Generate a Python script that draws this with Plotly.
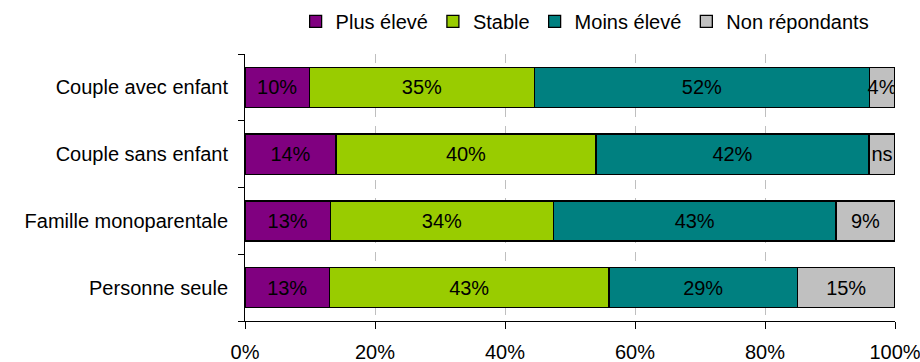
import plotly.graph_objects as go

# Household types (top to bottom) and share of answers per option
categories = ["Couple avec enfant", "Couple sans enfant", "Famille monoparentale", "Personne seule"]
plus_eleve = [10, 14, 13, 13]
stable = [35, 40, 34, 43]
moins_eleve = [52, 42, 43, 29]
non_repondants = [4, 4, 9, 15]
non_repondants_labels = ["4%", "ns", "9%", "15%"]
x_ticks = [0, 20, 40, 60, 80, 100]
x_tick_labels = [f"{t}%" for t in x_ticks]

series = [
    ("Plus élevé", plus_eleve, "#800080", [f"{v}%" for v in plus_eleve]),
    ("Stable", stable, "#99CC00", [f"{v}%" for v in stable]),
    ("Moins élevé", moins_eleve, "#008080", [f"{v}%" for v in moins_eleve]),
    ("Non répondants", non_repondants, "#C0C0C0", non_repondants_labels),
]

font_family = "Liberation Sans, Arial, sans-serif"

fig = go.Figure()
for name, vals, color, labels in series:
    fig.add_trace(go.Bar(
        name=name,
        y=categories,
        x=vals,
        orientation="h",
        marker=dict(color=color, line=dict(color="#000000", width=1.3)),
        text=labels,
        textposition="inside",
        insidetextanchor="middle",
        textangle=0,
        constraintext="none",
        textfont=dict(color="#000000", size=20, family=font_family),
        hoverinfo="skip",
    ))

fig.update_layout(
    width=920,
    height=362,
    barmode="stack",
    barnorm="percent",
    bargap=0.4,
    plot_bgcolor="#FFFFFF",
    paper_bgcolor="#FFFFFF",
    font=dict(family=font_family, size=20, color="#000000"),
    margin=dict(l=245, r=25, t=54, b=41, autoexpand=False),
    showlegend=True,
    legend=dict(
        orientation="h",
        xref="container",
        x=0.636, xanchor="center",
        yref="container",
        y=0.995, yanchor="top",
        font=dict(size=20, family=font_family),
        itemwidth=30,
        traceorder="normal",
    ),
    xaxis=dict(
        range=[0, 100],
        tickmode="array",
        tickvals=x_ticks,
        ticktext=x_tick_labels,
        ticks="outside",
        ticklen=7,
        tickcolor="#000000",
        showline=True,
        linecolor="#000000",
        linewidth=1,
        showgrid=True,
        gridcolor="#BFBFBF",
        griddash="dash",
        gridwidth=1,
        zeroline=False,
        automargin=False,
        ticklabeloverflow="allow",
        ticklabelstandoff=6,
        tickfont=dict(size=20),
    ),
    yaxis=dict(
        categoryorder="array",
        categoryarray=categories[::-1],
        ticks="outside",
        tickson="boundaries",
        ticklen=6,
        tickcolor="#000000",
        showline=True,
        linecolor="#000000",
        linewidth=1,
        showgrid=False,
        automargin=False,
        ticklabelstandoff=12,
        tickfont=dict(size=20),
    ),
)

fig.write_html("out.html")
